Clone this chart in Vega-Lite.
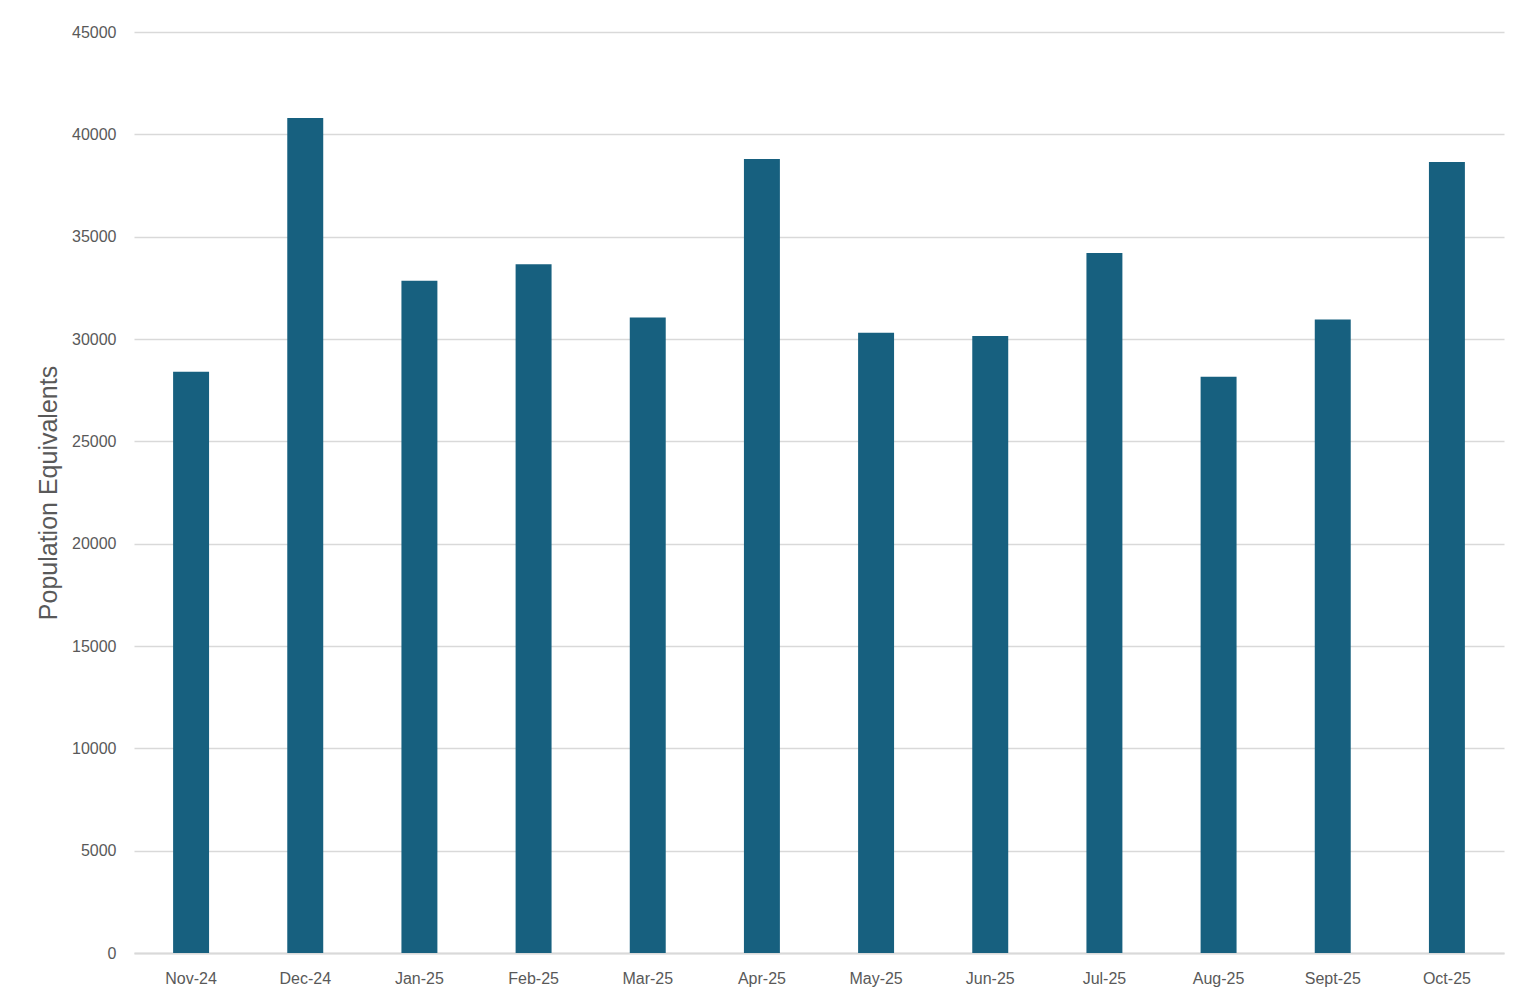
{
  "$schema": "https://vega.github.io/schema/vega-lite/v6.json",
  "width": 1370,
  "height": 921,
  "autosize": {"type": "none"},
  "padding": {"left": 134, "top": 32, "right": 24, "bottom": 42},
  "background": "white",
  "data": {
    "values": [
      {"month": "Nov-24", "pe": 28400},
      {"month": "Dec-24", "pe": 40800},
      {"month": "Jan-25", "pe": 32850},
      {"month": "Feb-25", "pe": 33650},
      {"month": "Mar-25", "pe": 31050},
      {"month": "Apr-25", "pe": 38800},
      {"month": "May-25", "pe": 30300},
      {"month": "Jun-25", "pe": 30150},
      {"month": "Jul-25", "pe": 34200},
      {"month": "Aug-25", "pe": 28150},
      {"month": "Sept-25", "pe": 30950},
      {"month": "Oct-25", "pe": 38650}
    ]
  },
  "mark": {"type": "bar", "color": "#17607f"},
  "encoding": {
    "x": {
      "field": "month",
      "type": "ordinal",
      "sort": null,
      "scale": {"paddingInner": 0.685, "paddingOuter": 0.3425},
      "axis": {
        "title": null,
        "labelAngle": 0,
        "labelFont": "Liberation Sans",
        "labelFontSize": 16,
        "labelColor": "#595959",
        "labelPadding": 17,
        "ticks": false,
        "domainColor": "#d9d9d9",
        "domainWidth": 2
      }
    },
    "y": {
      "field": "pe",
      "type": "quantitative",
      "scale": {"domain": [0, 45000], "nice": false},
      "axis": {
        "title": "Population Equivalents",
        "titleFont": "Liberation Sans",
        "titleFontSize": 25,
        "titleFontWeight": "normal",
        "titleColor": "#595959",
        "titlePadding": 10,
        "values": [0, 5000, 10000, 15000, 20000, 25000, 30000, 35000, 40000, 45000],
        "format": "d",
        "labelFont": "Liberation Sans",
        "labelFontSize": 16,
        "labelColor": "#595959",
        "labelPadding": 18,
        "ticks": false,
        "domain": false,
        "gridColor": "#d9d9d9",
        "gridWidth": 1.5
      }
    }
  },
  "config": {"view": {"stroke": null}}
}
